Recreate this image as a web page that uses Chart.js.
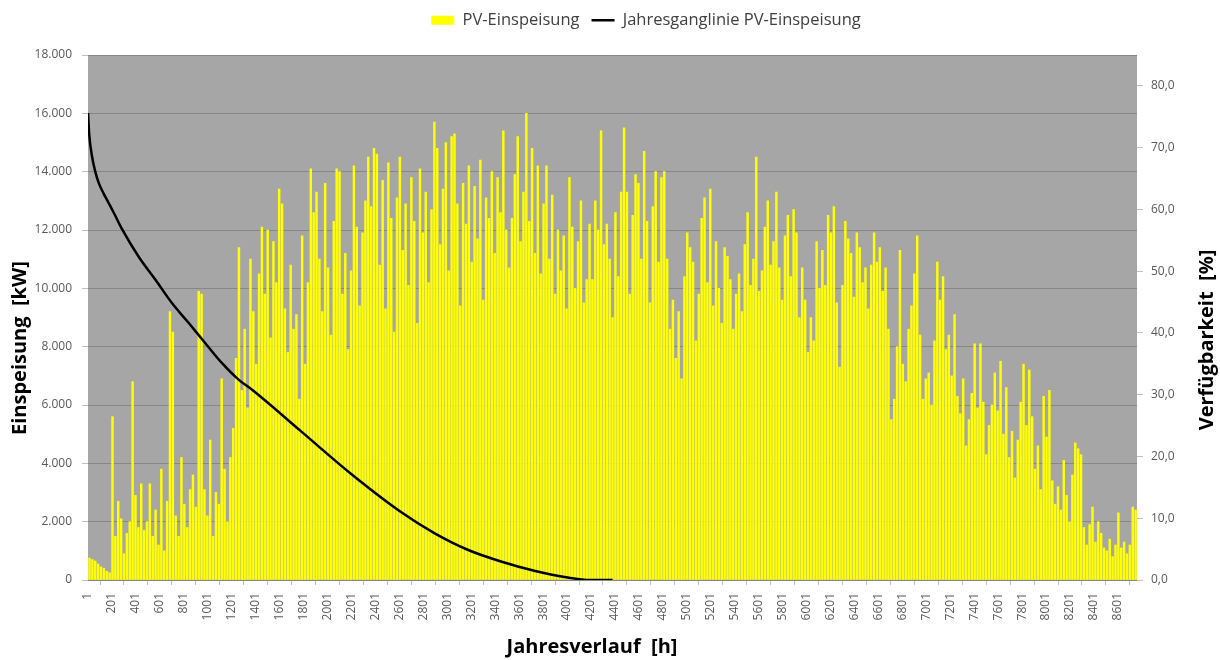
<!DOCTYPE html>
<html>
<head>
<meta charset="utf-8">
<script src="https://cdn.jsdelivr.net/npm/chart.js@4/dist/chart.umd.min.js"></script>
<style>
  body { margin: 0; background: #fff; }
  canvas { display: block; }
</style>
</head>
<body>
<canvas id="chart" width="1220" height="660"></canvas>
<script>
// PV-Einspeisung: Tagesspitzen in kW (ein Wert je Tag)
const pvDailyPeak = [
  750, 700, 650, 550, 450, 400, 300, 250, 5600, 1500, 2700,
  2100, 900, 1600, 2000, 6800, 2900, 1800, 3300, 1700, 2000,
  3300, 1500, 2400, 1200, 3800, 1000, 2700, 9200, 8500, 2200,
  1500, 4200, 2600, 1800, 3100, 3600, 2500, 9900, 9800, 3100,
  2200, 4800, 1500, 3000, 2600, 6900, 3800, 2000, 4200, 5200,
  7600, 11400, 6500, 8600, 5900, 11000, 9200, 7400, 10500, 12100,
  9800, 12000, 8300, 11600, 10200, 13400, 12900, 9300, 7800, 10800,
  8600, 9100, 6200, 11800, 7400, 10200, 14100, 12600, 13300, 11000,
  9200, 13600, 10700, 8400, 12300, 14100, 14000, 9800, 11200, 7900,
  10600, 14200, 12100, 9400, 11900, 13000, 14500, 12800, 14800, 14600,
  10800, 13700, 9300, 14300, 12400, 8500, 13100, 14500, 11300, 12900,
  10100, 13800, 12300, 8800, 14100, 11900, 13300, 10200, 12700, 15700,
  14800, 11500, 13400, 15000, 10600, 15200, 15300, 12900, 9400, 13600,
  12200, 14200, 10900, 13500, 11700, 14400, 9600, 13100, 12400, 14000,
  11200, 13800, 12600, 15400, 12000, 10700, 12400, 13900, 15200, 11600,
  13300, 16000, 12300, 14800, 11200, 14200, 10500, 12900, 14200, 11000,
  13200, 9800, 12000, 10600, 11800, 9300, 13800, 12100, 10000, 11600,
  13000, 9500, 10300, 12200, 10300, 13000, 12000, 15400, 11500, 12200,
  11000, 9000, 12600, 10400, 13300, 15500, 13300, 9800, 12500, 13900,
  13600, 11000, 14700, 12300, 9500, 12800, 14000, 10900, 13800, 14000,
  11000, 8600, 9600, 7600, 9200, 6900, 10400, 11900, 11400, 10900,
  8200, 9800, 12400, 13100, 10200, 13400, 9400, 11600, 10000, 8800,
  11400, 11100, 10300, 8600, 9800, 10500, 9200, 11500, 12600, 10100,
  11000, 14500, 9900, 10600, 12100, 13000, 10800, 11600, 13300, 10700,
  9600, 11800, 12500, 10400, 12700, 11900, 9000, 10700, 9600, 7800,
  9000, 8200, 11600, 10000, 11300, 10100, 12500, 11900, 12800, 9500,
  7300, 10100, 12300, 11700, 11200, 9700, 11900, 11400, 10200, 10700,
  9300, 10800, 11900, 10900, 11400, 9900, 10700, 8600, 5500, 6200,
  8000, 11300, 7400, 6800, 8600, 9400, 10500, 11800, 8400, 6200,
  6900, 7100, 6000, 8200, 10900, 9600, 10400, 7900, 8400, 7000,
  9100, 6300, 5700, 6900, 4600, 5500, 6400, 8100, 5900, 8100,
  6100, 4300, 5300, 6000, 7100, 5800, 7500, 5000, 6600, 4200,
  5100, 3500, 4800, 6100, 7400, 5300, 7200, 5600, 3800, 4600,
  3100, 6300, 4900, 6500, 3400, 2600, 3200, 2400, 4100, 2900,
  2000, 3600, 4700, 4500, 4300, 1800, 1200, 1900, 2500, 1300,
  2000, 1600, 1100, 1000, 1400, 800, 1200, 2300, 1100, 1300,
  900, 1200, 2500, 2400
];

// Jahresganglinie (Dauerlinie) in %
const curveHours = [1, 10, 34, 60, 90, 130, 174, 220, 285, 425, 564, 703, 842, 982, 1120, 1260, 1371,
  1778, 2196, 2614, 2892, 3171, 3449, 3727, 4006, 4201, 4382];
const curvePercent = [75.6, 72.3, 68.6, 66.2, 64.3, 62.6, 61.0, 59.3, 56.8, 52.3, 48.6, 44.8, 41.6, 38.3, 35.1, 32.4, 30.8,
  24.1, 17.2, 11.0, 7.6, 4.9, 3.0, 1.5, 0.4, 0, 0];

const xTicks = [];
for (let h = 1; h <= 8601; h += 200) xTicks.push(h);
const yTicks = [0, 2000, 4000, 6000, 8000, 10000, 12000, 14000, 16000, 18000];
const y1Ticks = [0, 10, 20, 30, 40, 50, 60, 70, 80];

const FONT = "'Open Sans', sans-serif";
const tickColor = '#595959';

const thousands = v => String(v).replace(/\B(?=(\d{3})+(?!\d))/g, '.');

// legend block reserves the space above the plot, sits a bit right of centre
const legendSpace = {
  id: 'legendSpace',
  beforeInit(chart) {
    const fit = chart.legend.fit;
    chart.legend.fit = function () {
      fit.call(this);
      this.height = 55;
    };
  },
  afterLayout(chart) {
    chart.legend.left += 36;
    chart.legend.right += 36;
  }
};

const plotBackground = {
  id: 'plotBackground',
  beforeDraw(chart) {
    const { ctx, chartArea: a } = chart;
    ctx.save();
    ctx.fillStyle = '#a6a6a6';
    ctx.fillRect(a.left, a.top, a.right - a.left, a.bottom - a.top);
    ctx.restore();
  }
};

const axisTitles = {
  id: 'axisTitles',
  afterDraw(chart) {
    const ctx = chart.ctx;
    ctx.save();
    ctx.fillStyle = '#000';
    ctx.font = "bold 20px " + FONT;
    ctx.textAlign = 'center';
    ctx.textBaseline = 'alphabetic';
    ctx.fillText('Jahresverlauf  [h]', 592, 653);

    ctx.translate(26, 348);
    ctx.rotate(-Math.PI / 2);
    ctx.fillText('Einspeisung  [kW]', 0, 0);
    ctx.restore();

    ctx.save();
    ctx.fillStyle = '#000';
    ctx.font = "bold 20px " + FONT;
    ctx.textAlign = 'center';
    ctx.textBaseline = 'alphabetic';
    ctx.translate(1213, 340);
    ctx.rotate(-Math.PI / 2);
    ctx.fillText('Verfügbarkeit  [%]', 0, 0);
    ctx.restore();
  }
};

new Chart(document.getElementById('chart'), {
  type: 'bar',
  data: {
    datasets: [
      {
        type: 'line',
        label: 'Jahresganglinie PV-Einspeisung',
        data: curveHours.map((h, i) => ({ x: h, y: curvePercent[i] })),
        borderColor: '#000',
        backgroundColor: '#000',
        borderWidth: 2.5,
        pointRadius: 0,
        cubicInterpolationMode: 'monotone',
        pointStyle: 'line',
        yAxisID: 'y1'
      },
      {
        type: 'bar',
        label: 'PV-Einspeisung',
        data: pvDailyPeak.map((v, i) => ({ x: i * 24 + 13, y: v })),
        backgroundColor: '#ffff00',
        borderWidth: 0,
        barThickness: 1.8,
        pointStyle: 'rect',
        yAxisID: 'y'
      }
    ]
  },
  options: {
    responsive: false,
    devicePixelRatio: 1,
    animation: false,
    layout: { padding: { top: 0, left: 0, right: 0, bottom: 0 } },
    plugins: {
      legend: {
        display: true,
        position: 'top',
        labels: {
          usePointStyle: true,
          pointStyleWidth: 23,
          boxHeight: 9,
          padding: 12,
          color: '#404040',
          font: { family: FONT, size: 16.5 },
          sort: (a, b) => b.datasetIndex - a.datasetIndex
        }
      },
      tooltip: { enabled: false }
    },
    scales: {
      x: {
        type: 'linear',
        min: 0.5,
        max: 8760.5,
        offset: false,
        afterBuildTicks: scale => { scale.ticks = xTicks.map(v => ({ value: v })); },
        afterFit: scale => { scale.height = 80; },
        ticks: {
          autoSkip: false,
          minRotation: 90,
          maxRotation: 90,
          padding: 8,
          color: tickColor,
          font: { family: FONT, size: 12 },
          callback: v => String(v)
        },
        grid: { display: true, drawOnChartArea: false, drawTicks: true, tickLength: 5, color: '#bfbfbf' },
        border: { display: false }
      },
      y: {
        position: 'left',
        min: 0,
        max: 18000,
        afterBuildTicks: scale => { scale.ticks = yTicks.map(v => ({ value: v })); },
        afterFit: scale => { scale.width = 88; },
        ticks: {
          padding: 10,
          color: tickColor,
          font: { family: FONT, size: 12 },
          callback: v => thousands(v)
        },
        grid: { color: '#878787', lineWidth: 1, tickLength: 6, tickColor: '#bfbfbf' },
        border: { display: false }
      },
      y1: {
        position: 'right',
        min: 0,
        max: 85,
        afterBuildTicks: scale => { scale.ticks = y1Ticks.map(v => ({ value: v })); },
        afterFit: scale => { scale.width = 83; },
        ticks: {
          padding: 8,
          color: tickColor,
          font: { family: FONT, size: 12 },
          callback: v => v.toFixed(1).replace('.', ',')
        },
        grid: { drawOnChartArea: false, tickLength: 6, color: '#bfbfbf' },
        border: { display: false }
      }
    }
  },
  plugins: [legendSpace, plotBackground, axisTitles]
});
</script>
</body>
</html>
